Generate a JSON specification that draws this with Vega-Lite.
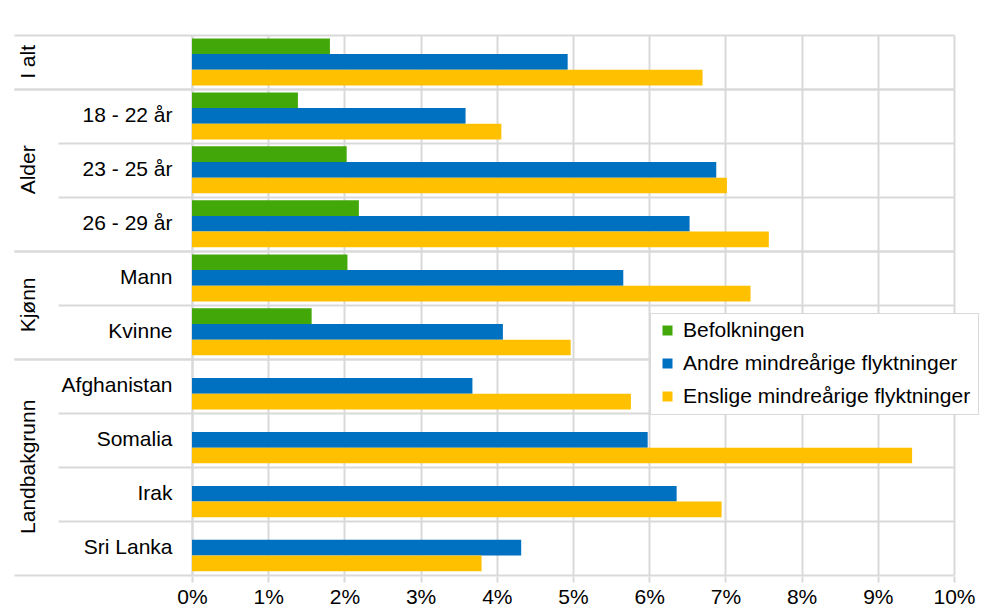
{
  "$schema": "https://vega.github.io/schema/vega-lite/v6.json",
  "padding": {"left": 13, "top": 34, "right": 5, "bottom": 5},
  "background": "white",
  "config": {
    "font": "Liberation Sans",
    "view": {"stroke": null}
  },
  "data": {"values": [
    {"gruppe": "I alt", "kategori": "I alt", "serie": "Befolkningen", "verdi": 0.0181},
    {"gruppe": "I alt", "kategori": "I alt", "serie": "Andre mindreårige flyktninger", "verdi": 0.0493},
    {"gruppe": "I alt", "kategori": "I alt", "serie": "Enslige mindreårige flyktninger", "verdi": 0.0670},
    {"gruppe": "Alder", "kategori": "18 - 22 år", "serie": "Befolkningen", "verdi": 0.0139},
    {"gruppe": "Alder", "kategori": "18 - 22 år", "serie": "Andre mindreårige flyktninger", "verdi": 0.0359},
    {"gruppe": "Alder", "kategori": "18 - 22 år", "serie": "Enslige mindreårige flyktninger", "verdi": 0.0406},
    {"gruppe": "Alder", "kategori": "23 - 25 år", "serie": "Befolkningen", "verdi": 0.0203},
    {"gruppe": "Alder", "kategori": "23 - 25 år", "serie": "Andre mindreårige flyktninger", "verdi": 0.0688},
    {"gruppe": "Alder", "kategori": "23 - 25 år", "serie": "Enslige mindreårige flyktninger", "verdi": 0.0702},
    {"gruppe": "Alder", "kategori": "26 - 29 år", "serie": "Befolkningen", "verdi": 0.0219},
    {"gruppe": "Alder", "kategori": "26 - 29 år", "serie": "Andre mindreårige flyktninger", "verdi": 0.0653},
    {"gruppe": "Alder", "kategori": "26 - 29 år", "serie": "Enslige mindreårige flyktninger", "verdi": 0.0757},
    {"gruppe": "Kjønn", "kategori": "Mann", "serie": "Befolkningen", "verdi": 0.0204},
    {"gruppe": "Kjønn", "kategori": "Mann", "serie": "Andre mindreårige flyktninger", "verdi": 0.0566},
    {"gruppe": "Kjønn", "kategori": "Mann", "serie": "Enslige mindreårige flyktninger", "verdi": 0.0733},
    {"gruppe": "Kjønn", "kategori": "Kvinne", "serie": "Befolkningen", "verdi": 0.0157},
    {"gruppe": "Kjønn", "kategori": "Kvinne", "serie": "Andre mindreårige flyktninger", "verdi": 0.0408},
    {"gruppe": "Kjønn", "kategori": "Kvinne", "serie": "Enslige mindreårige flyktninger", "verdi": 0.0497},
    {"gruppe": "Landbakgrunn", "kategori": "Afghanistan", "serie": "Andre mindreårige flyktninger", "verdi": 0.0368},
    {"gruppe": "Landbakgrunn", "kategori": "Afghanistan", "serie": "Enslige mindreårige flyktninger", "verdi": 0.0576},
    {"gruppe": "Landbakgrunn", "kategori": "Somalia", "serie": "Andre mindreårige flyktninger", "verdi": 0.0598},
    {"gruppe": "Landbakgrunn", "kategori": "Somalia", "serie": "Enslige mindreårige flyktninger", "verdi": 0.0945},
    {"gruppe": "Landbakgrunn", "kategori": "Irak", "serie": "Andre mindreårige flyktninger", "verdi": 0.0636},
    {"gruppe": "Landbakgrunn", "kategori": "Irak", "serie": "Enslige mindreårige flyktninger", "verdi": 0.0695},
    {"gruppe": "Landbakgrunn", "kategori": "Sri Lanka", "serie": "Andre mindreårige flyktninger", "verdi": 0.0432},
    {"gruppe": "Landbakgrunn", "kategori": "Sri Lanka", "serie": "Enslige mindreårige flyktninger", "verdi": 0.0380}
  ]},
  "facet": {
    "row": {
      "field": "gruppe",
      "type": "nominal",
      "sort": ["I alt", "Alder", "Kjønn", "Landbakgrunn"],
      "header": {
        "title": null,
        "labelAngle": -90,
        "labelOrient": "left",
        "labelFontSize": 21,
        "labelFont": "Liberation Sans",
        "labelColor": "black",
        "labelPadding": -37
      }
    }
  },
  "spacing": {"row": -2},
  "resolve": {"scale": {"y": "independent", "yOffset": "independent"}},
  "spec": {
    "width": 762,
    "height": {"step": 53.9, "for": "position"},
    "mark": {"type": "bar"},
    "encoding": {
      "y": {
        "field": "kategori",
        "type": "nominal",
        "sort": null,
        "scale": {"paddingInner": 0, "paddingOuter": 0},
        "axis": {
          "title": null,
          "tickBand": "extent",
          "grid": true,
          "gridColor": "#d9d9d9",
          "gridWidth": 2,
          "domainColor": "#d9d9d9",
          "domainWidth": 2,
          "tickColor": "#d9d9d9",
          "tickWidth": 2,
          "tickSize": {"condition": {"test": "datum.index < 0 || datum.index >= 1 || datum.value === 'I alt'", "value": 178}, "value": 134},
          "labelPadding": {"condition": {"test": "datum.index < 0 || datum.index >= 1 || datum.value === 'I alt'", "value": -158}, "value": -114},
          "labelFontSize": {"condition": {"test": "datum.index < 0", "value": 0}, "value": 21},
          "labelFont": "Liberation Sans",
          "labelColor": "black",
          "labelLimit": 200,
          "labelExpr": "datum.value === 'I alt' ? '' : datum.label"
        }
      },
      "yOffset": {
        "field": "serie",
        "type": "nominal",
        "scale": {
          "domain": ["Befolkningen", "Andre mindreårige flyktninger", "Enslige mindreårige flyktninger"],
          "paddingInner": 0,
          "paddingOuter": 0.22
        }
      },
      "x": {
        "field": "verdi",
        "type": "quantitative",
        "scale": {"domain": [0, 0.1], "nice": false},
        "axis": {
          "title": null,
          "values": [0, 0.01, 0.02, 0.03, 0.04, 0.05, 0.06, 0.07, 0.08, 0.09, 0.1],
          "format": ".0%",
          "domain": false,
          "grid": true,
          "gridColor": "#d9d9d9",
          "gridWidth": 2,
          "tickColor": "#d9d9d9",
          "tickWidth": 2,
          "tickSize": 6,
          "labelPadding": 4,
          "labelFontSize": 21,
          "labelFont": "Liberation Sans",
          "labelColor": "black",
          "labelFlush": false
        }
      },
      "color": {
        "field": "serie",
        "type": "nominal",
        "scale": {
          "domain": ["Befolkningen", "Andre mindreårige flyktninger", "Enslige mindreårige flyktninger"],
          "range": ["#42A80A", "#0070C0", "#FFC000"]
        },
        "legend": {
          "title": null,
          "orient": "none",
          "legendX": 458,
          "legendY": 278,
          "symbolType": "square",
          "symbolSize": 100,
          "symbolStrokeWidth": 0,
          "labelFontSize": 21,
          "labelFont": "Liberation Sans",
          "labelColor": "black",
          "labelLimit": 400,
          "labelOffset": 5,
          "rowPadding": 11,
          "padding": 7,
          "strokeColor": "#d9d9d9",
          "fillColor": "white",
          "cornerRadius": 0
        }
      }
    }
  }
}
